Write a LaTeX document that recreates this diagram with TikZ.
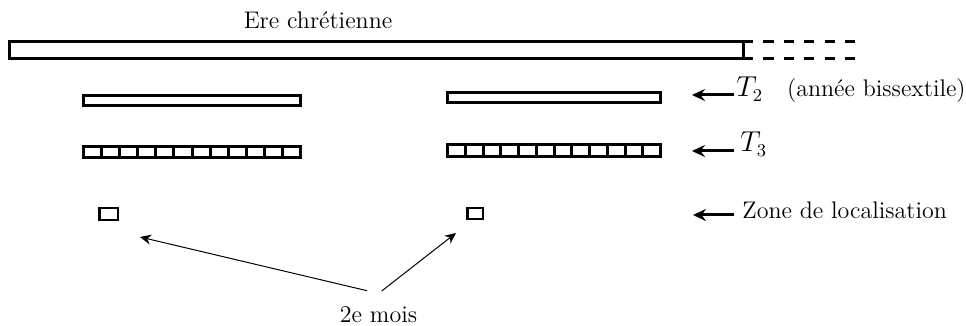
\documentclass[tikz,border=0pt]{standalone}
\usetikzlibrary{arrows.meta}
\begin{document}
\begin{tikzpicture}[x=0.5pt,y=-0.5pt,
  bar/.style={line width=1.5pt},
  sq/.style={line width=1.3pt},
  lab/.style={inner sep=0pt, font=\fontsize{12}{14}\selectfont},
  bigarrow/.style={line width=1.5pt, -{Stealth[length=6.5pt,width=6pt,inset=2.2pt]}},
  thinarrow/.style={line width=0.5pt, -{Stealth[length=5.5pt,width=5pt,inset=1.8pt]}},
]
\useasboundingbox (0,0) rectangle (966,326);

% Ere chretienne
\node[lab, anchor=base] (ere) at (318,29) {Ere chrétienne};
\draw[bar] (9.5,41.7) rectangle (743,58.3);
\draw[bar, dash pattern=on 5.1pt off 5.1pt] (743,41.7) -- (855,41.7) (743,58.3) -- (855,58.3);

% T2 bars
\draw[bar] (83.5,95.5) rectangle (300.5,105.5);
\draw[bar] (447.5,92.5) rectangle (660.5,102.5);

% T3 bars with 12 cells
\draw[bar] (83.5,146.5) rectangle (300.5,157.5);
\foreach \i in {1,...,11}
  \draw[bar] ({83.5+\i*(300.5-83.5)/12},146.5) -- ++(0,11);
\draw[bar] (447.5,145) rectangle (660.5,157);
\foreach \i in {1,...,11}
  \draw[bar] ({447.5+\i*(660.5-447.5)/12},145) -- ++(0,12);

% localisation zones
\draw[sq] (99.5,208.2) rectangle (117.8,220.2);
\draw[sq] (467.2,208.2) rectangle (482.8,219.2);

% labels on the right
\node[lab, anchor=base west] (t2) at (736,97) {{\fontsize{13.5}{15}\selectfont$T_2$}\quad(année bissextile)};
\node[lab, anchor=base west] (t3) at (740,152) {{\fontsize{13.5}{15}\selectfont$T_3$}};
\node[lab, anchor=base west] (zone) at (742,218.5) {Zone de localisation};

\coordinate (t2tail) at (734,95);
\coordinate (t2tip)  at (692,95);
\coordinate (t3tail) at (734,151);
\coordinate (t3tip)  at (692,151);
\coordinate (zntail) at (734,215);
\coordinate (zntip)  at (693,215);
\draw[bigarrow] (t2tail) -- (t2tip);
\draw[bigarrow] (t3tail) -- (t3tip);
\draw[bigarrow] (zntail) -- (zntip);

% 2e mois
\node[lab, anchor=base] (mois) at (378.5,322) {2e mois};
\coordinate (m1start) at (367,290.7);
\coordinate (m1tip)   at (140,237);
\coordinate (m2start) at (381.7,291);
\coordinate (m2tip)   at (456,233);
\draw[thinarrow] (m1start) -- (m1tip);
\draw[thinarrow] (m2start) -- (m2tip);
\end{tikzpicture}
\end{document}
